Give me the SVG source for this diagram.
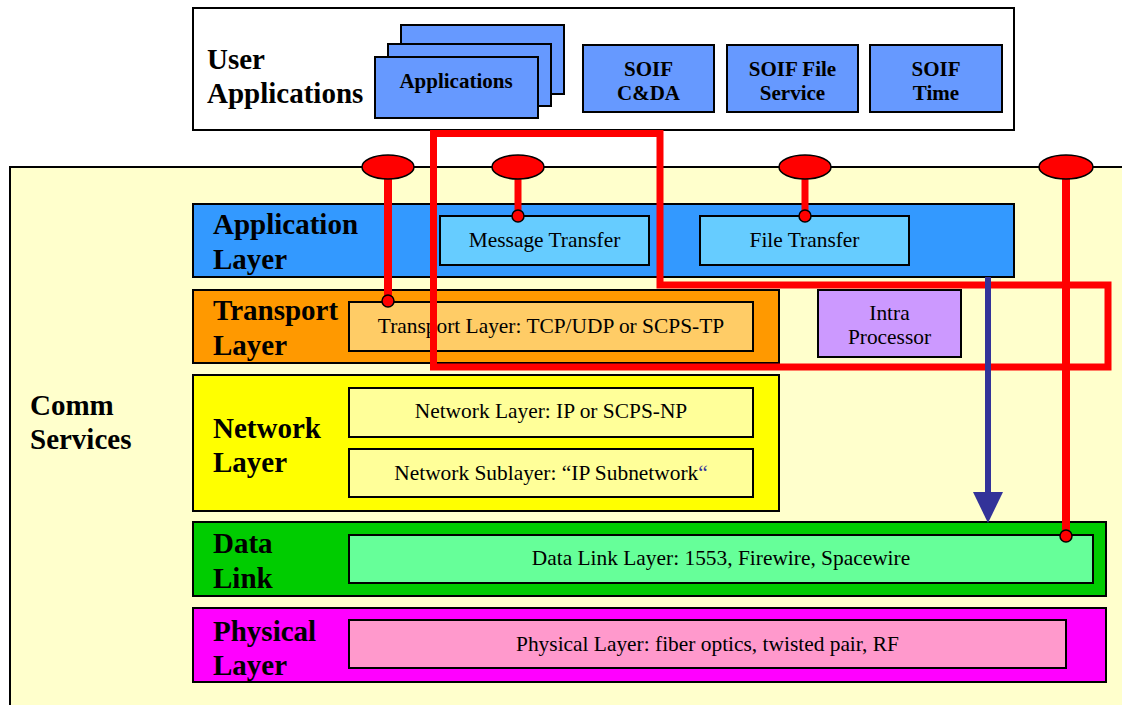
<svg xmlns="http://www.w3.org/2000/svg" width="1122" height="705" viewBox="0 0 1122 705">
<defs>
<style>
.box{stroke:#000;stroke-width:2}
.big{font-family:"Liberation Serif","Times New Roman",serif;font-weight:bold;font-size:29px;fill:#000}
.app{font-family:"Liberation Serif","Times New Roman",serif;font-weight:bold;font-size:21px;fill:#000;text-anchor:middle}
.in{font-family:"Liberation Serif","Times New Roman",serif;font-size:21.4px;fill:#000;text-anchor:middle}
.red{stroke:#FF0000;stroke-width:7;fill:none}
.ell{fill:#FF0000;stroke:#000;stroke-width:1.5}
</style>
</defs>
<rect width="1122" height="705" fill="#fff"/>
<g id="user-applications">
<rect class="box" x="193" y="8" width="821" height="122" fill="#fff"/>
<text class="big"><tspan x="207" y="69">User</tspan><tspan x="207" y="103">Applications</tspan></text>
</g>
<g id="applications">
<rect class="box" x="401" y="25" width="163" height="69" fill="#6699FF"/>
<rect class="box" x="388" y="44" width="163" height="62" fill="#6699FF"/>
<rect class="box" x="375" y="57" width="163" height="61" fill="#6699FF"/>
<text class="app" x="456" y="88">Applications</text>
</g>
<g id="soif-cda">
<rect class="box" x="583" y="45" width="131" height="67" fill="#6699FF"/>
<text class="app"><tspan x="648.5" y="76">SOIF</tspan><tspan x="648.5" y="100">C&amp;DA</tspan></text>
</g>
<g id="soif-file">
<rect class="box" x="727" y="45" width="131" height="67" fill="#6699FF"/>
<text class="app"><tspan x="792.5" y="76">SOIF File</tspan><tspan x="792.5" y="100">Service</tspan></text>
</g>
<g id="soif-time">
<rect class="box" x="870" y="45" width="132" height="67" fill="#6699FF"/>
<text class="app"><tspan x="936" y="76">SOIF</tspan><tspan x="936" y="100">Time</tspan></text>
</g>
<g id="comm-services">
<path d="M1124,167 H10 V707" fill="#FFFFCC" stroke="#000" stroke-width="2"/>
<rect x="11" y="168" width="1113" height="540" fill="#FFFFCC"/>
<text class="big"><tspan x="30" y="415">Comm</tspan><tspan x="30" y="449">Services</tspan></text>
</g>
<g id="application-layer">
<rect class="box" x="193" y="204" width="821" height="73" fill="#3399FF"/>
<text class="big"><tspan x="213" y="234">Application</tspan><tspan x="213" y="269">Layer</tspan></text>
</g>
<g id="message-transfer">
<rect class="box" x="440" y="216" width="209" height="49" fill="#66CCFF"/>
<text class="in" x="544.5" y="247">Message Transfer</text>
</g>
<g id="file-transfer">
<rect class="box" x="700" y="216" width="209" height="49" fill="#66CCFF"/>
<text class="in" x="804.5" y="247">File Transfer</text>
</g>
<g id="transport-layer">
<rect class="box" x="193" y="290" width="586" height="73" fill="#FF9900"/>
<text class="big"><tspan x="213" y="320">Transport</tspan><tspan x="213" y="355">Layer</tspan></text>
<rect class="box" x="349" y="302" width="404" height="49" fill="#FFCC66"/>
<text class="in" x="551" y="333">Transport Layer: TCP/UDP or SCPS-TP</text>
</g>
<g id="intra-processor">
<rect class="box" x="818" y="290" width="143" height="67" fill="#CC99FF"/>
<text class="in"><tspan x="889.5" y="320">Intra</tspan><tspan x="889.5" y="344">Processor</tspan></text>
</g>
<g id="network-layer">
<rect class="box" x="193" y="375" width="586" height="136" fill="#FFFF00"/>
<text class="big"><tspan x="213" y="438">Network</tspan><tspan x="213" y="472">Layer</tspan></text>
<rect class="box" x="349" y="388" width="404" height="49" fill="#FFFF99"/>
<text class="in" x="551" y="418">Network Layer: IP or SCPS-NP</text>
<rect class="box" x="349" y="449" width="404" height="48" fill="#FFFF99"/>
<text class="in" x="551" y="480">Network Sublayer: “IP Subnetwork<tspan fill="#333399">“</tspan></text>
</g>
<g id="data-link">
<rect class="box" x="193" y="522" width="913" height="74" fill="#00CC00"/>
<text class="big"><tspan x="213" y="553">Data</tspan><tspan x="213" y="588">Link</tspan></text>
<rect class="box" x="349" y="535" width="744" height="48" fill="#66FF99"/>
<text class="in" x="721" y="565">Data Link Layer: 1553, Firewire, Spacewire</text>
</g>
<g id="physical-layer">
<rect class="box" x="193" y="608" width="913" height="74" fill="#FF00FF"/>
<text class="big"><tspan x="213" y="641">Physical</tspan><tspan x="213" y="675">Layer</tspan></text>
<rect class="box" x="349" y="620" width="717" height="48" fill="#FF99CC"/>
<text class="in" x="707.5" y="651">Physical Layer: fiber optics, twisted pair, RF</text>
</g>
<g id="connectors">
<path class="red" d="M433.5,133.5 H660 V285 H1108 V367 H433.5 Z"/>
<line x1="988" y1="277" x2="988" y2="494" stroke="#333399" stroke-width="6"/>
<polygon points="973,492 1003,492 988,523" fill="#333399"/>
<line x1="388" y1="167" x2="388" y2="301" stroke="#FF0000" stroke-width="8"/>
<line x1="518" y1="167" x2="518" y2="216" stroke="#FF0000" stroke-width="7"/>
<line x1="805" y1="167" x2="805" y2="216" stroke="#FF0000" stroke-width="7"/>
<line x1="1066" y1="167" x2="1066" y2="536" stroke="#FF0000" stroke-width="8"/>
<ellipse class="ell" cx="388" cy="167" rx="26" ry="12"/>
<ellipse class="ell" cx="518" cy="167" rx="26" ry="12"/>
<ellipse class="ell" cx="805" cy="167" rx="26" ry="12"/>
<ellipse class="ell" cx="1066" cy="167" rx="27" ry="12"/>
<circle class="ell" cx="388" cy="301" r="6"/>
<circle class="ell" cx="518" cy="216" r="6"/>
<circle class="ell" cx="805" cy="216" r="6"/>
<circle class="ell" cx="1066" cy="536" r="6"/>
</g>
</svg>
